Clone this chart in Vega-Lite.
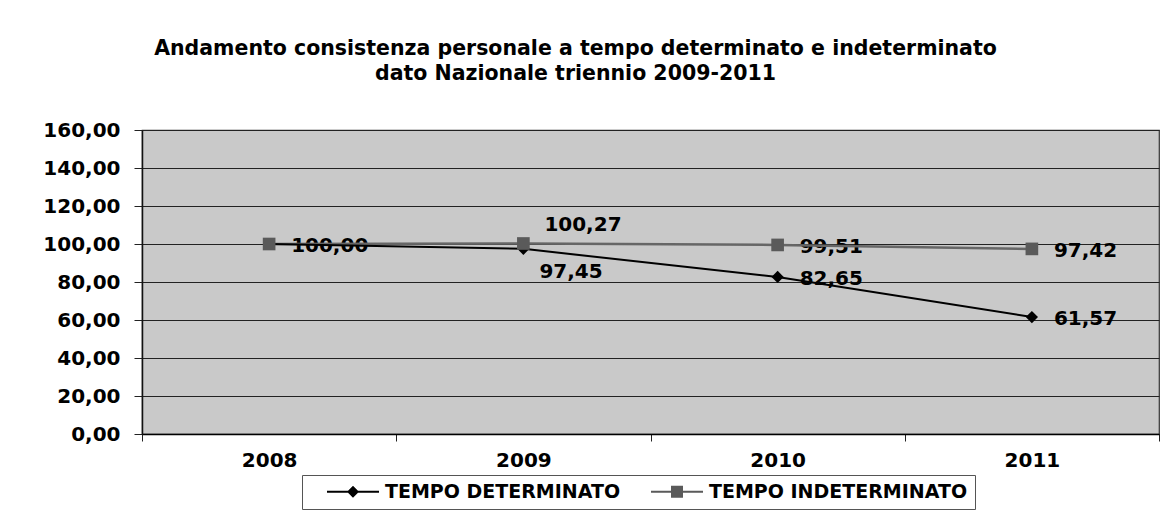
{
  "$schema": "https://vega.github.io/schema/vega-lite/v6.json",
  "autosize": "none",
  "width": 1017,
  "height": 304,
  "padding": {"left": 142, "top": 130, "right": 11, "bottom": 80},
  "background": "white",
  "title": {
    "text": ["Andamento consistenza personale a tempo determinato e indeterminato", "dato Nazionale triennio 2009-2011"],
    "anchor": "middle",
    "frame": "group",
    "dx": -75,
    "offset": 36,
    "font": "DejaVu Sans",
    "fontSize": 20.5,
    "fontWeight": "bold",
    "lineHeight": 25,
    "color": "#000000"
  },
  "data": {
    "values": [
      {"anno": "2008", "serie": "TEMPO DETERMINATO", "valore": 100.00},
      {"anno": "2009", "serie": "TEMPO DETERMINATO", "valore": 97.45},
      {"anno": "2010", "serie": "TEMPO DETERMINATO", "valore": 82.65},
      {"anno": "2011", "serie": "TEMPO DETERMINATO", "valore": 61.57},
      {"anno": "2008", "serie": "TEMPO INDETERMINATO", "valore": 100.00},
      {"anno": "2009", "serie": "TEMPO INDETERMINATO", "valore": 100.27},
      {"anno": "2010", "serie": "TEMPO INDETERMINATO", "valore": 99.51},
      {"anno": "2011", "serie": "TEMPO INDETERMINATO", "valore": 97.42}
    ]
  },
  "encoding": {
    "x": {
      "field": "anno",
      "type": "ordinal",
      "scale": {"type": "band", "paddingInner": 0, "paddingOuter": 0},
      "axis": {
        "title": null,
        "labelAngle": 0,
        "tickBand": "extent",
        "domainColor": "#000000",
        "domainWidth": 1.5,
        "tickColor": "#222222",
        "tickSize": 7,
        "labelFont": "DejaVu Sans",
        "labelFontSize": 20,
        "labelFontWeight": "bold",
        "labelColor": "#000000",
        "labelPadding": 9,
        "grid": false
      }
    },
    "y": {
      "field": "valore",
      "type": "quantitative",
      "scale": {"domain": [0, 160], "nice": false, "zero": true},
      "axis": {
        "title": null,
        "values": [0, 20, 40, 60, 80, 100, 120, 140, 160],
        "format": ".2f",
        "labelFont": "DejaVu Sans",
        "labelFontSize": 20,
        "labelFontWeight": "bold",
        "labelColor": "#000000",
        "labelPadding": 14,
        "tickSize": 8,
        "tickColor": "#222222",
        "domainColor": "#111111",
        "domainWidth": 1.5,
        "grid": true,
        "gridColor": "#222222",
        "gridWidth": 1.2,
        "gridOpacity": 1
      }
    }
  },
  "layer": [
    {
      "transform": [{"filter": "datum.anno !== '2009' && !(datum.anno === '2008' && datum.serie === 'TEMPO DETERMINATO')"}],
      "mark": {"type": "text", "align": "left", "baseline": "middle", "dx": 22, "dy": 2, "font": "DejaVu Sans", "fontSize": 20, "fontWeight": "bold", "color": "#000000"},
      "encoding": {"text": {"field": "valore", "type": "quantitative", "format": ".2f"}}
    },
    {
      "transform": [{"filter": "datum.anno === '2009' && datum.serie === 'TEMPO INDETERMINATO'"}],
      "mark": {"type": "text", "align": "left", "baseline": "middle", "dx": 21, "dy": -18, "font": "DejaVu Sans", "fontSize": 20, "fontWeight": "bold", "color": "#000000"},
      "encoding": {"text": {"field": "valore", "type": "quantitative", "format": ".2f"}}
    },
    {
      "transform": [{"filter": "datum.anno === '2009' && datum.serie === 'TEMPO DETERMINATO'"}],
      "mark": {"type": "text", "align": "left", "baseline": "middle", "dx": 16, "dy": 23, "font": "DejaVu Sans", "fontSize": 20, "fontWeight": "bold", "color": "#000000"},
      "encoding": {"text": {"field": "valore", "type": "quantitative", "format": ".2f"}}
    },
    {
      "transform": [{"filter": "datum.serie === 'TEMPO INDETERMINATO'"}],
      "mark": {"type": "line", "color": "#666666", "strokeWidth": 2.5}
    },
    {
      "transform": [{"filter": "datum.serie === 'TEMPO DETERMINATO'"}],
      "mark": {"type": "line", "color": "#000000", "strokeWidth": 2}
    },
    {
      "transform": [{"filter": "datum.serie === 'TEMPO DETERMINATO'"}],
      "mark": {"type": "point", "shape": "diamond", "filled": true, "opacity": 1, "color": "#000000", "size": 150}
    },
    {
      "transform": [{"filter": "datum.serie === 'TEMPO INDETERMINATO'"}],
      "mark": {"type": "point", "shape": "square", "filled": true, "opacity": 1, "color": "#5a5a5a", "size": 160}
    },
    {
      "transform": [{"filter": "false"}],
      "mark": {"type": "point", "filled": true},
      "encoding": {
        "color": {
          "field": "serie",
          "type": "nominal",
          "scale": {"domain": ["TEMPO DETERMINATO", "TEMPO INDETERMINATO"], "range": ["#000000", "#5a5a5a"]},
          "legend": {
            "title": "\u00a0",
            "titleOrient": "left",
            "titleFontSize": 19,
            "titlePadding": 18,
            "orient": "none",
            "direction": "horizontal",
            "legendX": 160,
            "legendY": 345,
            "strokeColor": "#555555",
            "fillColor": "#ffffff",
            "padding": 7,
            "symbolSize": 2704,
            "clipHeight": 19,
            "symbolStrokeWidth": 0,
            "symbolOpacity": 1,
            "labelFont": "DejaVu Sans",
            "labelFontSize": 19,
            "labelFontWeight": "bold",
            "labelColor": "#000000",
            "labelLimit": 500,
            "labelOffset": 6,
            "columnPadding": 30
          }
        },
        "shape": {
          "field": "serie",
          "type": "nominal",
          "scale": {
            "domain": ["TEMPO DETERMINATO", "TEMPO INDETERMINATO"],
            "range": [
              "M-1,-0.04L1,-0.04L1,0.04L-1,0.04Z M0,-0.23L0.23,0L0,0.23L-0.23,0Z",
              "M-1,-0.04L1,-0.04L1,0.04L-1,0.04Z M-0.23,-0.23L0.23,-0.23L0.23,0.23L-0.23,0.23Z"
            ]
          },
          "legend": {
            "title": "\u00a0",
            "titleOrient": "left",
            "titleFontSize": 19,
            "titlePadding": 18,
            "orient": "none",
            "direction": "horizontal",
            "legendX": 160,
            "legendY": 345,
            "strokeColor": "#555555",
            "fillColor": "#ffffff",
            "padding": 7,
            "symbolSize": 2704,
            "clipHeight": 19,
            "symbolStrokeWidth": 0,
            "symbolOpacity": 1,
            "labelFont": "DejaVu Sans",
            "labelFontSize": 19,
            "labelFontWeight": "bold",
            "labelColor": "#000000",
            "labelLimit": 500,
            "labelOffset": 6,
            "columnPadding": 30
          }
        }
      }
    }
  ],
  "config": {
    "locale": {"number": {"decimal": ",", "thousands": ".", "grouping": [3], "currency": ["€", ""]}},
    "view": {"fill": "#c9c9c9", "stroke": "#333333", "strokeWidth": 1.2}
  }
}
